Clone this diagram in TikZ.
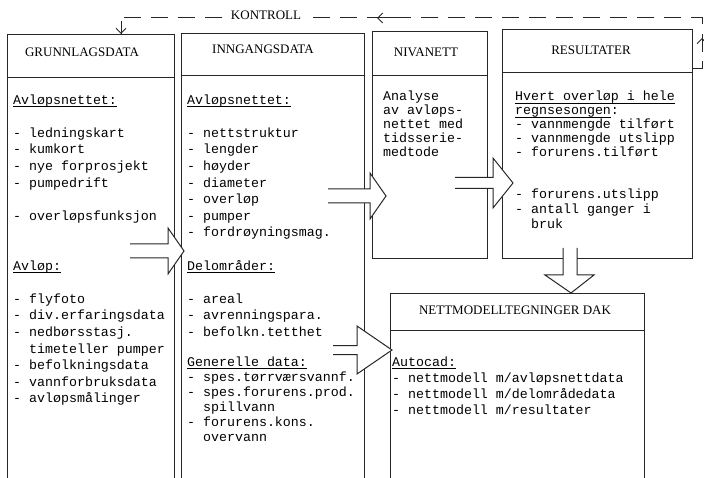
\documentclass[tikz,border=0pt]{standalone}
\usepackage{fontspec}
\setmainfont{Liberation Serif}
\newfontfamily\tw{Liberation Mono}
\usetikzlibrary{arrows.meta,calc}
\newcommand\ul[1]{\setbox0=\hbox{#1}\rlap{\rule[-2.6pt]{\wd0}{0.7pt}}\box0}
\newcommand\hollowR[6]{% tail x, back x, tip x, centre y, shaft half, head half
  \path[blk] (#1,#4-#5) -- (#2,#4-#5) -- (#2,#4-#6) -- (#3,#4) -- (#2,#4+#6) -- (#2,#4+#5) -- (#1,#4+#5);}
\begin{document}
\begin{tikzpicture}[x=1pt,y=-1pt,
  box/.style={draw=black!85, line width=1pt, inner sep=0pt, anchor=north west},
  rule/.style={draw=black!85, line width=1pt},
  hdr/.style={font=\fontsize{13}{15}\selectfont, inner sep=0pt, anchor=base},
  body/.style={font=\tw\fontsize{13.3}{16.6}\selectfont, inner sep=0pt, anchor=base west, align=left},
  tight/.style={font=\tw\fontsize{13.3}{14}\selectfont},
  mid/.style={font=\tw\fontsize{13.3}{15}\selectfont},
  blk/.style={draw=black!85, line width=1pt, fill=white, line join=miter},
  ctl/.style={draw=black!85, line width=1pt, dash pattern=on 17pt off 10pt},
  tip/.style={draw=black!85, line width=1pt, -{Straight Barb[length=5pt,width=10pt]}},
]
\useasboundingbox (0,0) rectangle (704,478);

% boxes
\node[box, minimum width=167pt, minimum height=460pt] (grunn) at (7,34) {};
\node[box, minimum width=183pt, minimum height=460pt] (inng) at (181,33) {};
\node[box, minimum width=115pt, minimum height=227pt] (niva) at (372,31) {};
\node[box, minimum width=190pt, minimum height=229pt] (res) at (502,29) {};
\node[box, minimum width=254pt, minimum height=200pt] (nett) at (390,293) {};

% header dividers
\draw[rule] (grunn.west |- 0,78) -- (grunn.east |- 0,78);
\draw[rule] (inng.west |- 0,76) -- (inng.east |- 0,76);
\draw[rule] (niva.west |- 0,76) -- (niva.east |- 0,76);
\draw[rule] (res.west |- 0,73) -- (res.east |- 0,73);
\draw[rule] (nett.west |- 0,330) -- (nett.east |- 0,330);

% control loop
\coordinate (kR) at (702,69);
\coordinate (kT) at (702,18);
\coordinate (kL) at (121,18);
\draw[ctl] (kR -| res.east) -- (kR) -- (kT) -- (kL) -- (kL |- grunn.north);
\draw[tip] (702,52) -- (702,38);
\draw[tip] (394,18) -- (377,18);
\draw[tip] ($(kL |- grunn.north)+(0,-13)$) -- (kL |- grunn.north);
\node[hdr, fill=white, inner xsep=7pt, inner ysep=2pt] (kontroll) at (266,20) {KONTROLL};

% hollow block arrows
\hollowR{130}{168}{184}{251}{7}{23}
\hollowR{328}{370}{386}{196}{7}{23}
\hollowR{455}{493}{513}{183}{5.5}{25}
\hollowR{333}{357}{392}{350}{4.5}{24}
\path[blk] (563,248) -- (563,275) -- (545,275) -- (571,293) -- (594,275) -- (577,275) -- (577,248);

% headers
\node[hdr] (h1) at (82,56.5) {GRUNNLAGSDATA};
\node[hdr] (h2) at (263,53.5) {INNGANGSDATA};
\node[hdr] (h3) at (426,57) {NIVANETT};
\node[hdr] (h4) at (591,55) {RESULTATER};
\node[hdr] (h5) at (515,314.5) {NETTMODELLTEGNINGER DAK};

% body texts (anchored at the baseline of their last line)
\node[body] (t1) at (13,402.8) {\ul{Avløpsnettet:}\\ \mbox{}\\ - ledningskart\\ - kumkort\\ - nye forprosjekt\\ - pumpedrift\\ \mbox{}\\ - overløpsfunksjon\\ \mbox{}\\ \mbox{}\\ \ul{Avløp:}\\ \mbox{}\\ - flyfoto\\ - div.erfaringsdata\\ - nedbørsstasj.\\ \hspace*{16pt}timeteller pumper\\ - befolkningsdata\\ - vannforbruksdata\\ - avløpsmålinger};

\node[body] (t2a) at (187,336.4) {\ul{Avløpsnettet:}\\ \mbox{}\\ - nettstruktur\\ - lengder\\ - høyder\\ - diameter\\ - overløp\\ - pumper\\ - fordrøyningsmag.\\ \mbox{}\\ \ul{Delområder:}\\ \mbox{}\\ - areal\\ - avrenningspara.\\ - befolkn.tetthet};
\node[body, mid] (t2b) at (187,441) {\ul{Generelle data:}\\ - spes.tørrværsvannf.\\ - spes.forurens.prod.\\ \hspace*{16pt}spillvann\\ - forurens.kons.\\ \hspace*{16pt}overvann};

\node[body, tight] (t3) at (383,157) {Analyse\\ av avløps-\\ nettet med\\ tidsserie-\\ medtode};

\node[body, tight] (t4a) at (515,157) {\ul{Hvert overløp i hele}\\ \ul{regnsesongen}:\\ - vannmengde tilført\\ - vannmengde utslipp\\ - forurens.tilført};
\node[body, mid] (t4b) at (515,229) {- forurens.utslipp\\ - antall ganger i\\ \hspace*{16pt}bruk};

\node[body, font=\tw\fontsize{13.3}{16}\selectfont] (t5) at (392,414) {\ul{Autocad:}\\ - nettmodell m/avløpsnettdata\\ - nettmodell m/delområdedata\\ - nettmodell m/resultater};
\end{tikzpicture}
\end{document}
